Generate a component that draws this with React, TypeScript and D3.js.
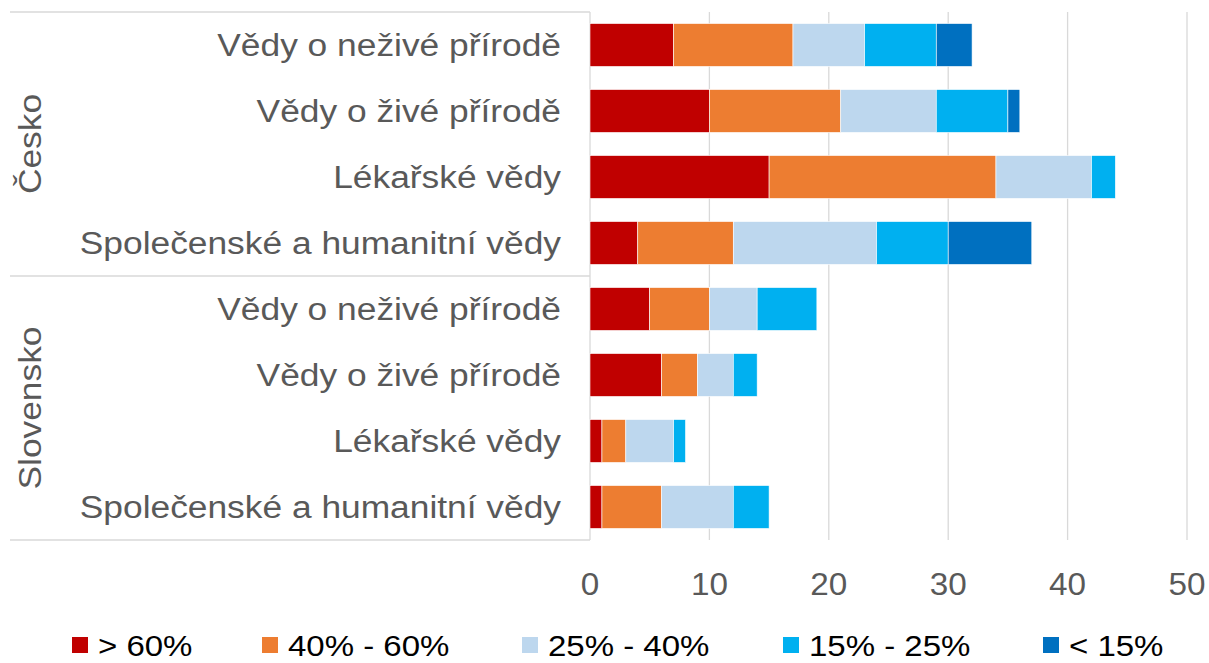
import React from "react";
import * as d3 from "d3";

const groups = ["Česko", "Slovensko"];
const categories = [
  "Vědy o neživé přírodě",
  "Vědy o živé přírodě",
  "Lékařské vědy",
  "Společenské a humanitní vědy",
];
const seriesNames = ["> 60%", "40% - 60%", "25% - 40%", "15% - 25%", "< 15%"];
const seriesColors = ["#C00000", "#ED7D31", "#BDD7EE", "#00B0F0", "#0070C0"];
// rows: Česko x4, Slovensko x4
const over60 = [7, 10, 15, 4, 5, 6, 1, 1];
const s40to60 = [10, 11, 19, 8, 5, 3, 2, 5];
const s25to40 = [6, 8, 8, 12, 4, 3, 4, 6];
const s15to25 = [6, 6, 2, 6, 5, 2, 1, 3];
const under15 = [3, 1, 0, 7, 0, 0, 0, 0];
const xTicks = [0, 10, 20, 30, 40, 50];

const W = 1209;
const H = 663;
const left = 590;
const right = 1187;
const top = 12;
const bottom = 540;
const FONT = "'Liberation Sans', Arial, sans-serif";
const SX = 1.14;
const SXL = 1.1;

export default function App() {
  const rows = groups.flatMap((g) => categories.map((c) => ({ g, c })));
  const rowKeys = rows.map((_, i) => String(i));
  const table = rows.map((r, i) => ({
    key: String(i),
    v0: over60[i],
    v1: s40to60[i],
    v2: s25to40[i],
    v3: s15to25[i],
    v4: under15[i],
  }));
  const keys = ["v0", "v1", "v2", "v3", "v4"];
  const stacked = d3.stack<any>().keys(keys)(table);

  const x = d3.scaleLinear().domain([0, 50]).range([left, right]);
  const y = d3.scaleBand().domain(rowKeys).range([top, bottom]).paddingInner(0.35).paddingOuter(0.175);
  const groupY = d3.scaleBand().domain(groups).range([top, bottom]);

  const legendX = [72, 262, 522, 783, 1043];

  return (
    <svg width={W} height={H} style={{ position: "absolute", left: 0, top: 0, background: "#fff" }} fontFamily={FONT}>
      {/* gridlines */}
      {xTicks.map((t) => (
        <line key={t} x1={x(t)} x2={x(t)} y1={top} y2={bottom} stroke="#D9D9D9" strokeWidth={1.3} />
      ))}
      {/* left frame */}
      {[top, groupY("Slovensko")!, bottom].map((yy, i) => (
        <line key={i} x1={10} x2={left} y1={yy} y2={yy} stroke="#D9D9D9" strokeWidth={1.3} />
      ))}
      {/* bars */}
      {stacked.map((s, si) => (
        <g key={si} fill={seriesColors[si]}>
          {s.map((d, i) => {
            const w = x(d[1]) - x(d[0]);
            if (w <= 0) return null;
            return (
              <rect
                key={i}
                x={x(d[0])}
                y={y(rowKeys[i])}
                width={w}
                height={y.bandwidth()}
                stroke="#fff"
                strokeWidth={0.6}
              />
            );
          })}
        </g>
      ))}
      {/* category labels */}
      {rows.map((r, i) => (
        <text
          key={i}
          transform={`translate(561,${y(rowKeys[i])! + y.bandwidth() / 2}) scale(${SX},1)`}
          dy="0.36em"
          textAnchor="end"
          fontSize={31}
          fill="#595959"
        >
          {r.c}
        </text>
      ))}
      {/* group labels */}
      {groups.map((g) => (
        <text
          key={g}
          transform={`translate(41,${groupY(g)! + groupY.bandwidth() / 2}) rotate(-90) scale(${SX},1)`}
          textAnchor="middle"
          fontSize={31}
          fill="#595959"
        >
          {g}
        </text>
      ))}
      {/* x tick labels */}
      {xTicks.map((t) => (
        <text key={t} transform={`translate(${x(t)},595) scale(1.04,1)`} textAnchor="middle" fontSize={32} fill="#595959">
          {t}
        </text>
      ))}
      {/* legend */}
      {seriesNames.map((n, i) => (
        <g key={n}>
          <rect x={legendX[i]} y={637} width={16} height={16} fill={seriesColors[i]} />
          <text transform={`translate(${legendX[i] + 26},656) scale(${SXL},1)`} fontSize={30} fill="#000">
            {n}
          </text>
        </g>
      ))}
    </svg>
  );
}
